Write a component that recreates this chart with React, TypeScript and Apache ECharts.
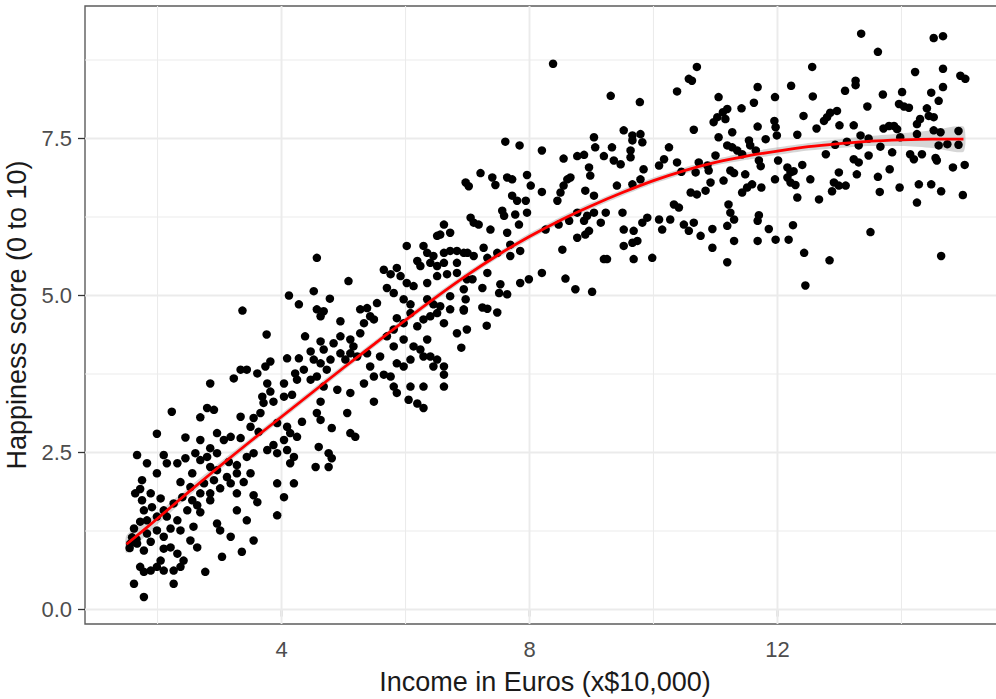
import { useEffect, useRef } from "react";
import * as echarts from "echarts";

// Survey responses: income (x $10,000) vs. happiness score, grouped by income band.
const lowIncomePoints: [number, number][] = [
  [3.76, 4.38], [4.09, 4.0], [3.82, 3.95], [3.74, 3.87], [3.61, 3.76], [3.44, 3.82], [3.34, 3.82], [3.23, 3.68],
  [2.85, 3.6], [4.22, 3.76], [4.25, 3.66], [4.04, 3.6], [3.77, 3.6], [3.82, 3.47], [3.69, 3.39], [3.71, 3.29],
  [3.87, 3.31], [4.04, 3.39], [4.17, 3.42], [2.8, 3.21], [2.91, 3.18], [2.69, 3.06], [2.23, 3.15], [1.99, 2.8],
  [2.45, 2.74], [2.69, 2.7], [2.96, 2.81], [3.07, 2.7], [3.18, 2.75], [3.34, 2.73], [3.34, 3.07], [3.55, 3.05],
  [3.66, 3.13], [3.5, 2.91], [3.63, 2.83], [3.93, 2.97], [4.09, 2.91], [4.14, 2.81], [4.25, 2.75], [4.04, 2.7],
  [3.87, 2.62], [3.77, 2.54], [3.93, 2.49], [4.09, 2.54], [4.2, 2.43], [4.14, 2.33],
  [1.67, 2.46], [1.83, 2.33], [2.1, 2.46], [2.15, 2.33], [1.99, 2.17], [1.75, 2.06], [2.32, 2.33], [2.45, 2.41],
  [2.61, 2.49], [2.69, 2.38], [2.8, 2.43], [2.85, 2.57], [2.96, 2.49], [3.15, 2.35], [3.28, 2.3], [3.44, 2.43],
  [3.55, 2.49], [2.85, 2.27], [2.96, 2.22], [2.56, 2.17], [2.37, 2.03], [2.53, 1.95], [2.75, 2.01], [2.91, 2.06],
  [3.12, 2.11], [3.28, 2.17], [3.5, 2.17], [3.39, 2.03], [3.18, 2.01], [2.69, 1.85], [2.85, 1.85], [3.01, 1.93],
  [1.64, 1.85], [1.75, 1.74], [1.89, 1.85], [2.05, 1.77], [1.91, 1.63], [1.78, 1.58], [2.1, 1.58], [2.26, 1.69],
  [2.4, 1.79], [2.56, 1.74], [2.64, 1.66], [2.48, 1.58], [2.69, 1.55], [2.85, 1.74], [3.28, 1.85], [3.55, 1.82],
  [3.61, 1.71], [3.28, 1.58], [3.93, 2.01], [4.2, 2.01], [4.04, 1.79], [3.93, 1.5],
  [1.62, 1.29], [1.72, 1.4], [1.83, 1.42], [1.99, 1.48], [2.15, 1.48], [2.32, 1.42], [2.21, 1.29], [1.99, 1.26],
  [1.83, 1.21], [1.56, 1.05], [1.67, 1.05], [1.78, 0.94], [1.89, 1.08], [2.1, 1.16], [2.37, 1.26], [2.58, 1.32],
  [2.53, 1.1], [2.64, 0.99], [2.96, 1.37], [3.01, 1.26], [3.18, 1.16], [3.44, 1.42], [3.55, 1.1], [3.36, 0.92],
  [3.04, 0.84], [2.77, 0.6], [2.1, 0.97], [2.21, 0.99], [2.32, 0.89], [2.05, 0.78], [1.99, 0.68], [1.72, 0.68],
  [1.78, 0.6], [1.89, 0.62], [2.1, 0.62], [2.26, 0.62], [2.37, 0.68], [2.42, 0.78], [2.26, 0.41], [1.62, 0.41],
  [1.78, 0.2], [1.59, 1.15], [1.55, 0.98], [1.66, 1.12], [1.72, 1.92], [3.37, 4.76],
];

const midIncomePoints: [number, number][] = [
  [6.62, 6.13], [6.56, 5.97], [6.72, 6.0], [6.51, 5.95], [6.02, 5.79], [6.29, 5.79], [6.35, 5.68], [6.45, 5.63],
  [6.62, 5.68], [6.72, 5.71], [6.83, 5.71], [6.94, 5.68], [6.83, 5.52], [6.62, 5.52], [6.51, 5.47], [6.4, 5.52],
  [6.19, 5.55], [6.24, 5.47], [4.57, 5.6], [5.08, 5.23], [4.52, 5.07], [4.12, 5.0], [4.28, 4.86], [4.78, 4.95],
  [4.57, 4.78], [4.63, 4.67], [4.68, 4.75], [5.65, 5.41], [5.76, 5.34], [5.86, 5.44], [5.92, 5.31], [6.02, 5.2],
  [6.13, 5.15], [6.35, 5.2], [6.51, 5.31], [6.67, 5.34], [6.83, 5.36], [5.7, 5.12], [5.81, 5.04], [5.97, 4.94],
  [6.08, 4.86], [6.35, 4.94], [6.45, 4.86], [6.56, 4.83], [6.72, 4.99], [6.94, 5.1], [6.99, 5.26], [5.27, 4.78],
  [5.38, 4.8], [5.43, 4.67], [5.49, 4.62], [5.54, 4.88], [5.33, 4.56], [4.95, 4.59], [5.27, 4.4], [5.11, 4.3],
  [5.16, 4.19], [4.95, 4.35], [4.84, 4.24], [4.38, 4.35], [4.63, 4.27], [4.68, 4.14], [4.47, 4.11], [4.52, 3.98],
  [4.63, 3.92], [4.73, 3.82], [4.79, 3.98], [4.95, 4.08], [5.03, 3.98], [5.11, 4.08], [5.22, 4.03], [5.38, 4.08],
  [5.43, 3.87], [5.59, 4.03], [5.7, 4.35], [5.81, 4.46], [5.86, 4.64], [5.97, 4.56], [6.08, 4.72], [6.19, 4.51],
  [6.29, 4.62], [6.4, 4.67], [6.51, 4.72], [6.62, 4.56], [6.72, 4.78], [6.94, 4.78], [6.83, 4.4], [6.99, 4.46],
  [6.35, 4.3], [6.24, 4.14], [6.4, 4.03], [6.51, 3.98], [6.62, 3.87], [6.45, 3.87], [6.29, 4.03], [5.86, 3.92],
  [5.97, 3.87], [6.08, 3.98], [6.13, 4.19], [5.97, 4.3], [5.81, 4.19], [6.9, 4.17], [4.28, 4.0], [4.36, 3.82],
  [4.47, 3.66], [4.57, 3.71], [4.68, 3.55], [4.9, 3.5], [5.11, 3.45], [5.33, 3.6], [5.49, 3.71], [5.65, 3.74],
  [5.76, 3.71], [5.81, 3.55], [5.86, 3.45], [6.08, 3.55], [6.29, 3.55], [6.62, 3.55], [6.62, 3.74], [5.49, 3.31],
  [6.05, 3.34], [6.19, 3.28], [6.29, 3.21], [5.06, 3.13], [4.81, 2.89], [5.11, 2.81], [5.19, 2.75], [4.63, 3.02],
  [4.63, 3.31], [4.57, 3.13], [4.33, 2.99], [4.6, 2.59], [4.76, 2.49], [4.81, 2.41], [4.55, 2.27], [4.76, 2.27],
];

const upperIncomePoints: [number, number][] = [
  [8.38, 8.69], [9.31, 8.18], [9.78, 8.08], [10.38, 8.25], [9.52, 7.63], [9.66, 7.55], [9.79, 7.57], [9.66, 7.47],
  [9.82, 7.44], [9.04, 7.52], [9.06, 7.36], [9.33, 7.36], [7.61, 7.45], [7.84, 7.39], [8.2, 7.31], [8.55, 7.18],
  [8.77, 7.22], [8.88, 7.24], [9.2, 7.22], [9.36, 7.15], [9.47, 7.09], [9.63, 7.31], [9.63, 7.2], [10.25, 7.36],
  [10.17, 7.17], [10.09, 7.07], [10.38, 7.12], [9.84, 7.01], [8.96, 7.04], [8.98, 6.91], [7.21, 6.95], [6.97, 6.8],
  [7.02, 6.74], [7.4, 6.88], [7.45, 6.76], [7.64, 6.88], [7.72, 6.85], [7.96, 6.92], [8.02, 6.75], [8.2, 6.65],
  [7.72, 6.59], [7.8, 6.51], [7.94, 6.51], [8.61, 6.85], [8.66, 6.88], [8.55, 6.75], [8.5, 6.64], [8.45, 6.51],
  [8.9, 6.67], [9.04, 6.59], [9.41, 6.75], [9.66, 6.77], [9.79, 6.85], [7.56, 6.35], [7.59, 6.27], [7.77, 6.29],
  [7.83, 6.13], [7.96, 6.32], [7.05, 6.24], [7.1, 6.16], [7.18, 6.13], [7.37, 6.05], [7.64, 6.0], [8.26, 6.05],
  [8.47, 6.13], [8.64, 6.19], [8.77, 6.32], [8.93, 6.27], [9.04, 6.32], [9.23, 6.32], [9.5, 6.32], [9.15, 6.16],
  [8.88, 6.19], [8.96, 6.03], [8.9, 5.97], [9.52, 6.05], [9.68, 6.03], [9.82, 6.16], [9.9, 6.24], [10.09, 6.21],
  [10.14, 6.05], [10.27, 6.21], [10.33, 6.45], [10.41, 6.4], [8.77, 5.92], [8.53, 5.73], [9.2, 5.58], [9.25, 5.58],
  [9.68, 5.58], [9.98, 5.6], [9.52, 5.79], [9.66, 5.84], [9.74, 5.87], [7.0, 5.68], [7.1, 5.63], [7.26, 5.76],
  [7.32, 5.6], [7.48, 5.68], [7.69, 5.63], [7.85, 5.71], [7.69, 5.81], [7.08, 5.26], [7.32, 5.36], [7.24, 5.12],
  [6.97, 4.94], [7.53, 5.18], [7.51, 5.04], [7.64, 5.02], [7.85, 5.2], [7.99, 5.26], [8.2, 5.36], [8.58, 5.27],
  [8.74, 5.1], [9.01, 5.06], [6.94, 4.76], [7.24, 4.81], [7.32, 4.79], [7.48, 4.73], [7.31, 4.52],
];

const highIncomePoints: [number, number][] = [
  [13.35, 9.17], [14.52, 9.1], [14.67, 9.13], [13.62, 8.88], [10.7, 8.64], [10.57, 8.45], [10.62, 8.42], [12.56, 8.64],
  [14.22, 8.56], [14.67, 8.61], [14.95, 8.5], [15.03, 8.45], [11.68, 8.32], [12.22, 8.34], [13.26, 8.42], [13.26, 8.35],
  [13.09, 8.26], [11.05, 8.16], [11.96, 8.16], [12.57, 8.17], [13.7, 8.2], [14.01, 8.24], [14.48, 8.23], [14.67, 8.32],
  [14.6, 8.1], [11.42, 7.98], [11.62, 8.07], [11.19, 7.97], [11.12, 7.92], [11.03, 7.84], [10.97, 7.76], [11.16, 7.81],
  [13.45, 8.01], [13.96, 8.05], [14.04, 8.01], [14.12, 7.99], [14.41, 7.98], [12.96, 7.94], [12.85, 7.91], [12.8, 7.84],
  [12.75, 7.78], [12.42, 7.86], [14.52, 7.84], [14.44, 7.86], [14.3, 7.81], [14.25, 7.73], [11.95, 7.78], [11.97, 7.68],
  [11.99, 7.55], [11.68, 7.69], [10.65, 7.64], [11.27, 7.6], [12.63, 7.66], [13.0, 7.71], [13.23, 7.71], [13.71, 7.66],
  [13.8, 7.7], [13.88, 7.7], [13.93, 7.65], [14.52, 7.63], [14.63, 7.6], [14.92, 7.62], [12.32, 7.56], [13.34, 7.55],
  [13.47, 7.5], [11.05, 7.52], [11.81, 7.49], [11.54, 7.47], [11.56, 7.39], [13.98, 7.52], [14.25, 7.57], [11.19, 7.39],
  [11.27, 7.36], [11.35, 7.31], [13.12, 7.45], [12.93, 7.4], [13.31, 7.39], [13.66, 7.37], [14.6, 7.39], [14.74, 7.41],
  [14.92, 7.4], [11.0, 7.23], [11.43, 7.25], [11.65, 7.31], [11.7, 7.15], [11.73, 7.06], [12.01, 7.15], [12.78, 7.25],
  [13.47, 7.23], [13.85, 7.28], [14.14, 7.25], [14.2, 7.17], [14.33, 7.25], [14.55, 7.19], [14.57, 7.15], [13.23, 7.17],
  [13.31, 7.12], [10.68, 6.96], [10.73, 7.12], [10.87, 7.07], [10.89, 6.99], [11.24, 6.99], [11.3, 6.95], [11.48, 6.93],
  [12.16, 7.04], [12.21, 6.96], [12.26, 6.98], [12.16, 6.88], [12.21, 6.8], [12.29, 6.76], [12.4, 7.08], [12.99, 6.96],
  [13.28, 6.93], [13.81, 7.01], [13.62, 6.89], [14.83, 7.04], [15.02, 7.08], [11.13, 6.83], [10.92, 6.8], [11.96, 6.85],
  [12.53, 6.85], [12.91, 6.8], [12.88, 6.66], [12.99, 6.75], [13.1, 6.75], [11.59, 6.77], [11.51, 6.72], [11.43, 6.64],
  [11.74, 6.72], [10.6, 6.64], [10.7, 6.61], [10.84, 6.67], [12.32, 6.56], [12.67, 6.53], [13.65, 6.65], [13.97, 6.72],
  [14.28, 6.77], [14.48, 6.77], [14.64, 6.66], [14.99, 6.6], [14.25, 6.48], [11.21, 6.45], [11.24, 6.32], [11.3, 6.21],
  [11.19, 6.11], [11.7, 6.28], [11.68, 6.19], [10.49, 6.13], [10.57, 6.03], [10.65, 6.16], [10.76, 5.95], [10.95, 6.06],
  [10.95, 5.76], [11.86, 6.06], [11.97, 5.89], [12.18, 5.89], [12.25, 6.12], [11.3, 5.87], [11.68, 5.87], [11.19, 5.53],
  [12.43, 5.68], [12.84, 5.56], [13.5, 6.01], [14.64, 5.63], [12.45, 5.16], [10.45, 6.97],
];

// LOESS fit of happiness on income, with half-width of its confidence band.
const smoothIncome = [1.5, 2, 2.5, 3, 3.5, 4, 4.5, 5, 5.5, 6, 6.5, 7, 7.5, 8, 8.5, 9, 9.5, 10, 10.5, 11, 11.5, 12, 12.5, 13, 13.5, 14, 14.5, 15];
const smoothHappiness = [1.04, 1.45, 1.87, 2.28, 2.68, 3.07, 3.46, 3.85, 4.23, 4.61, 4.98, 5.33, 5.65, 5.94, 6.2, 6.43, 6.64, 6.83, 6.99, 7.12, 7.22, 7.3, 7.37, 7.42, 7.46, 7.48, 7.49, 7.49];
const smoothBand = [0.14, 0.09, 0.07, 0.06, 0.05, 0.05, 0.05, 0.05, 0.05, 0.05, 0.05, 0.05, 0.05, 0.05, 0.05, 0.05, 0.05, 0.05, 0.05, 0.05, 0.06, 0.06, 0.06, 0.07, 0.08, 0.1, 0.14, 0.2];

const xMajorTicks = [4, 8, 12];
const xMinorGrid = [2, 6, 10, 14];
const yMajorTicks = [0, 2.5, 5, 7.5];
const yMinorGrid = [1.25, 3.75, 6.25, 8.75];

const FONT = "'Liberation Sans', Arial, Helvetica, sans-serif";

export default function App() {
  const ref = useRef<HTMLDivElement>(null);

  useEffect(() => {
    if (!ref.current) return;
    const chart = echarts.init(ref.current, null, { renderer: "svg" });

    const points = [...lowIncomePoints, ...midIncomePoints, ...upperIncomePoints, ...highIncomePoints];

    // [orientation (0 = vertical, 1 = horizontal), value, major flag]
    const gridLines: number[][] = [
      ...xMinorGrid.map((v) => [0, v, 0]),
      ...yMinorGrid.map((v) => [1, v, 0]),
      ...xMajorTicks.map((v) => [0, v, 1]),
      ...yMajorTicks.map((v) => [1, v, 1]),
    ];

    const option: echarts.EChartsOption = {
      animation: false,
      backgroundColor: "#ffffff",
      textStyle: { fontFamily: FONT },
      grid: {
        left: 85,
        top: 6,
        right: -9,
        bottom: 75,
        show: true,
        borderColor: "#5c5c5c",
        borderWidth: 1.4,
        backgroundColor: "transparent",
        containLabel: false,
        outerBoundsMode: "none",
      } as any,
      xAxis: {
        type: "value",
        min: 0.83,
        max: 15.67,
        splitLine: { show: false },
        axisLine: { show: false },
        axisTick: {
          show: true,
          customValues: xMajorTicks,
          length: 7,
          lineStyle: { color: "#333333", width: 1.3 },
        },
        axisLabel: {
          customValues: xMajorTicks,
          color: "#4d4d4d",
          fontSize: 22,
          fontFamily: FONT,
          margin: 14,
        },
        name: "Income in Euros (x$10,000)",
        nameLocation: "middle",
        nameGap: 44,
        nameTextStyle: { fontSize: 27, color: "#1a1a1a", fontFamily: FONT },
      } as any,
      yAxis: {
        type: "value",
        min: -0.23,
        max: 9.61,
        splitLine: { show: false },
        axisLine: { show: false },
        axisTick: {
          show: true,
          customValues: yMajorTicks,
          length: 7,
          lineStyle: { color: "#333333", width: 1.3 },
        },
        axisLabel: {
          customValues: yMajorTicks,
          formatter: (v: number) => v.toFixed(1),
          color: "#4d4d4d",
          fontSize: 22,
          fontFamily: FONT,
          margin: 13,
        },
        name: "Happiness score (0 to 10)",
        nameLocation: "middle",
        nameRotate: 90,
        nameGap: 50,
        nameTextStyle: { fontSize: 27, color: "#1a1a1a", fontFamily: FONT },
      } as any,
      series: [
        {
          type: "custom",
          silent: true,
          data: gridLines,
          encode: { x: 1, y: 1 },
          renderItem: (params: any, api: any) => {
            const cs = params.coordSys;
            const orient = api.value(0);
            const v = api.value(1);
            const major = api.value(2) === 1;
            const style = { stroke: "#ebebeb", lineWidth: major ? 1.9 : 1.1 };
            if (orient === 0) {
              const p = api.coord([v, 0]);
              return { type: "line", shape: { x1: p[0], y1: cs.y, x2: p[0], y2: cs.y + cs.height }, style };
            }
            const p = api.coord([1, v]);
            return { type: "line", shape: { x1: cs.x, y1: p[1], x2: cs.x + cs.width, y2: p[1] }, style };
          },
        },
        {
          type: "scatter",
          data: points,
          symbol: "circle",
          symbolSize: 8.5,
          itemStyle: { color: "#000000", opacity: 1 },
          silent: true,
        },
        {
          type: "custom",
          silent: true,
          data: [[smoothIncome[0], smoothHappiness[0]]],
          renderItem: (_params: any, api: any) => {
            const upper = smoothIncome.map((x, i) => api.coord([x, smoothHappiness[i] + smoothBand[i]]));
            const lower = smoothIncome.map((x, i) => api.coord([x, smoothHappiness[i] - smoothBand[i]])).reverse();
            return {
              type: "polygon",
              shape: { points: [...upper, ...lower], smooth: 0.2 },
              style: { fill: "rgba(153,153,153,0.4)" },
            };
          },
        },
        {
          type: "line",
          data: smoothIncome.map((x, i) => [x, smoothHappiness[i]]),
          smooth: 0.2,
          showSymbol: false,
          lineStyle: { color: "#ff0000", width: 2.8 },
          silent: true,
        },
      ],
    };

    chart.setOption(option);
    return () => chart.dispose();
  }, []);

  return (
    <div
      ref={ref}
      style={{ position: "fixed", left: 0, top: 0, width: 996, height: 699, background: "#ffffff" }}
    />
  );
}
